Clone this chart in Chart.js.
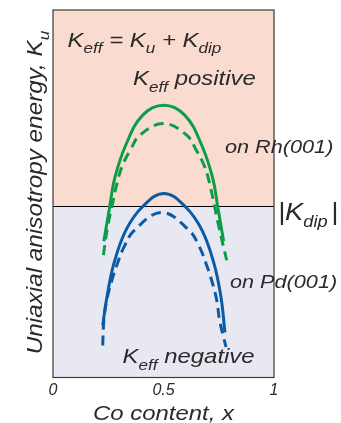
<!DOCTYPE html>
<html><head><meta charset="utf-8">
<script src="https://cdn.jsdelivr.net/npm/chart.js@4.4.1/dist/chart.umd.min.js"></script>
<style>html,body{margin:0;padding:0;background:#fff}#wrap{width:341px;height:423px;position:relative}</style>
</head><body><div id="wrap"><canvas id="c" width="341" height="423"></canvas></div>
<script>
// Co content x (0..1), anisotropy in arbitrary units (0..10)
const xTicks = [0, 0.5, 1];
const kDip = 4.66;
const rhSolidX = [0.230, 0.257, 0.279, 0.329, 0.406, 0.501, 0.596, 0.673, 0.723, 0.745, 0.772];
const rhSolidY = [3.71, 4.66, 5.42, 6.32, 7.14, 7.41, 7.14, 6.32, 5.42, 4.66, 3.71];
const rhDashX = [0.228, 0.246, 0.268, 0.291, 0.314, 0.349, 0.394, 0.499, 0.604, 0.649, 0.684, 0.707, 0.730, 0.752, 0.786];
const rhDashY = [3.33, 4.06, 4.69, 5.32, 5.77, 6.18, 6.60, 6.91, 6.60, 6.18, 5.77, 5.32, 4.69, 4.06, 3.19];
const pdSolidX = [0.225, 0.244, 0.276, 0.330, 0.404, 0.502, 0.600, 0.674, 0.728, 0.760, 0.778];
const pdSolidY = [1.42, 2.19, 3.11, 4.01, 4.64, 5.01, 4.64, 4.01, 3.11, 2.19, 1.23];
const pdDashX = [0.225, 0.230, 0.243, 0.266, 0.292, 0.322, 0.369, 0.492, 0.615, 0.662, 0.692, 0.718, 0.741, 0.754, 0.783];
const pdDashY = [0.87, 1.55, 2.10, 2.64, 3.11, 3.56, 4.01, 4.49, 4.01, 3.56, 3.11, 2.64, 2.10, 1.55, 0.83];

const GREEN = '#0d9c48', BLUE = '#0b5aa6', TXT = '#2b2a2a';
const FONT = '"Liberation Sans", Arial, sans-serif';
const SX = 1.14; // wide lettering of the original
const pts = (xs, ys) => xs.map((x, i) => ({x, y: ys[i]}));

function richWidth(ctx, segs, size, subSize) {
  let w = 0;
  for (const s of segs) { ctx.font = 'italic ' + (s.sub ? subSize : size) + 'px ' + FONT; w += ctx.measureText(s.t).width + (s.gap || 0); }
  return w;
}
function drawRich(ctx, segs, size, subSize, subOff) {
  let cx = 0;
  for (const s of segs) {
    ctx.font = 'italic ' + (s.sub ? subSize : size) + 'px ' + FONT;
    ctx.fillText(s.t, cx, s.sub ? subOff : 0);
    cx += ctx.measureText(s.t).width + (s.gap || 0);
  }
}
function label(ctx, segs, x, y, size, subSize, subOff, align) {
  ctx.save();
  ctx.translate(x, y); ctx.scale(SX, 1);
  if (align === 'center') ctx.translate(-richWidth(ctx, segs, size, subSize) / 2, 0);
  drawRich(ctx, segs, size, subSize, subOff);
  ctx.restore();
}

const deco = {
  id: 'deco',
  beforeDatasetsDraw(chart) {
    const {ctx, chartArea: a, scales: {y}} = chart;
    const yk = y.getPixelForValue(kDip);
    ctx.save();
    ctx.fillStyle = '#fadbd0';
    ctx.fillRect(a.left, a.top, a.right - a.left, yk - a.top);
    ctx.fillStyle = '#e8e8f3';
    ctx.fillRect(a.left, yk, a.right - a.left, a.bottom - yk);
    ctx.strokeStyle = '#000'; ctx.lineWidth = 1;
    ctx.beginPath(); ctx.moveTo(a.left, Math.round(yk) + 0.5); ctx.lineTo(a.right, Math.round(yk) + 0.5); ctx.stroke();
    ctx.restore();
  },
  afterDraw(chart) {
    const {ctx, chartArea: a} = chart;
    ctx.save();
    ctx.strokeStyle = '#3a3a3a'; ctx.lineWidth = 1.2;
    ctx.strokeRect(a.left, a.top, a.right - a.left, a.bottom - a.top);
    ctx.fillStyle = TXT; ctx.textBaseline = 'alphabetic';
    label(ctx, [{t:'K'},{t:'eff',sub:1},{t:' = K'},{t:'u',sub:1},{t:' + K'},{t:'dip',sub:1}], 67.5, 46.7, 21, 15, 6.5);
    label(ctx, [{t:'K'},{t:'eff',sub:1},{t:' positive'}], 133, 85, 21, 15, 6.5);
    label(ctx, [{t:'on Rh(001)'}], 225, 152.7, 19, 14, 0);
    label(ctx, [{t:'|K'},{t:'dip',sub:1,gap:3},{t:'|'}], 278, 219.5, 24, 16, 7);
    label(ctx, [{t:'on Pd(001)'}], 230, 288.3, 19, 14, 0);
    label(ctx, [{t:'K'},{t:'eff',sub:1},{t:' negative'}], 122.5, 363.3, 21, 15, 6.5);
    label(ctx, [{t:'Co content, x'}], (a.left + a.right) / 2, 419.5, 21, 15, 0, 'center');
    // y axis title
    ctx.save();
    ctx.translate(42, 192.5); ctx.rotate(-Math.PI / 2);
    label(ctx, [{t:'Uniaxial anisotropy energy, K'},{t:'u',sub:1}], 0, 0, 21.3, 15, 6.5, 'center');
    ctx.restore();
    ctx.restore();
  }
};

const ds = (d, color, dash) => ({data: d, borderColor: color, borderWidth: 3, borderDash: dash, pointRadius: 0, fill: false, tension: 0.4, borderCapStyle: 'butt'});

new Chart(document.getElementById('c'), {
  type: 'line',
  data: {datasets: [
    ds(pts(rhSolidX, rhSolidY), GREEN, []),
    ds(pts(rhDashX, rhDashY), GREEN, [10, 6]),
    ds(pts(pdSolidX, pdSolidY), BLUE, []),
    ds(pts(pdDashX, pdDashY), BLUE, [10, 6])
  ]},
  options: {
    responsive: false, animation: false,
    layout: {padding: {left: 53, right: 67, top: 10, bottom: 18.5}},
    plugins: {legend: {display: false}, tooltip: {enabled: false}},
    scales: {
      x: {type: 'linear', min: 0, max: 1,
        afterBuildTicks: s => { s.ticks = xTicks.map(v => ({value: v})); },
        grid: {display: false, drawTicks: false}, border: {display: false},
        ticks: {padding: 4.5, color: TXT, font: {family: FONT, size: 16, style: 'italic', lineHeight: 1.125}, maxRotation: 0, autoSkip: false,
          callback: v => String(v)},
        title: {display: false}
      },
      y: {type: 'linear', min: 0, max: 10, display: false}
    }
  },
  plugins: [deco]
});
</script></body></html>
